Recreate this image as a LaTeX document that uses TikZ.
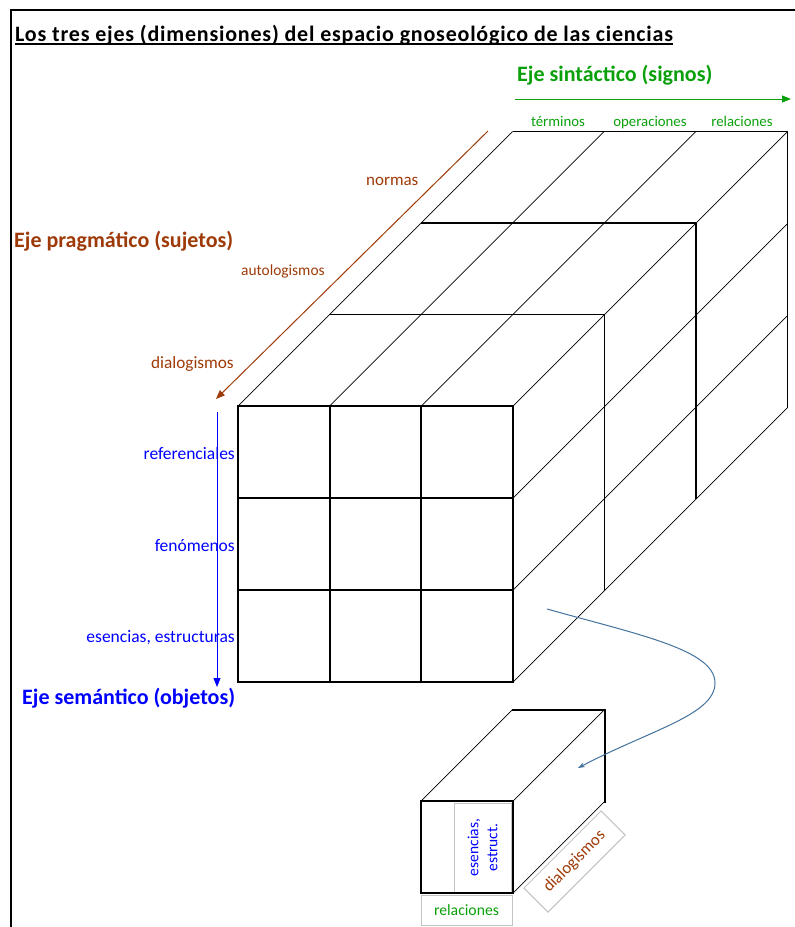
\documentclass[tikz,border=0pt]{standalone}
\usepackage{fontspec}
\setmainfont{Carlito}
\usetikzlibrary{arrows.meta}
\definecolor{sgreen}{RGB}{10,160,10}
\definecolor{pbrown}{RGB}{158,58,8}
\definecolor{sblue}{RGB}{0,0,255}
\definecolor{curveblue}{RGB}{65,113,156}
\definecolor{boxgray}{RGB}{195,195,195}
\begin{document}
\begin{tikzpicture}[x=1pt,y=-1pt,
  heading/.style={inner sep=0pt,font=\fontsize{22}{26}\selectfont\bfseries},
  lbl/.style={inner sep=0pt},
  frontline/.style={line width=2pt,line cap=rect},
  gridline/.style={line width=1.1pt},
  diagline/.style={line width=0.7pt},
  greybox/.style={draw=boxgray,line width=1pt,inner sep=0pt}]
\useasboundingbox (0,0) rectangle (795,927);

% border
\draw[line width=2pt] (10.5,10) -- (795,10);
\draw[line width=1.2pt] (11,9) -- (11,927);

% title
\node[anchor=base west,inner sep=0pt,font=\fontsize{22}{26}\selectfont\bfseries\addfontfeature{LetterSpace=3.6}] (title) at (15,41)
  {Los tres ejes (dimensiones) del espacio gnoseológico de las ciencias};
\draw[line width=1.3pt] ([yshift=-3pt]title.base west) -- ([yshift=-3pt]title.base east);

% ---------- main cube ----------
\foreach \k in {1,2,3}{
  \draw[gridline] (238+\k*91.5,406-\k*91.5) -- (513+\k*91.5,406-\k*91.5);
  \draw[gridline] (513+\k*91.5,406-\k*91.5) -- (513+\k*91.5,682-\k*91.5);
}
\foreach \i in {0,1,2,3}{
  \draw[diagline] (238+\i*91.67,406) -- ++(274.5,-274.5);
}
\foreach \j in {1,2,3}{
  \draw[diagline] (513,406+\j*92) -- ++(274.5,-274.5);
}
\foreach \i in {0,1,2,3}{
  \draw[frontline] (238+\i*91.67,406) -- (238+\i*91.67,682);
  \draw[frontline] (238,406+\i*92) -- (513,406+\i*92);
}

% ---------- axes ----------
\coordinate (gS) at (515,99);
\coordinate (gE) at (791,99);
\draw[sgreen,line width=1pt,-{Triangle[length=9pt,width=7pt]}] (gS) -- (gE);
\coordinate (bS) at (488,131);
\coordinate (bE) at (216,399);
\draw[pbrown,line width=1pt,-{Triangle[length=9pt,width=7pt]}] (bS) -- (bE);
\coordinate (uS) at (217,412);
\coordinate (uE) at (217,687);
\draw[sblue,line width=1pt,-{Triangle[length=9pt,width=7pt]}] (uS) -- (uE);

% axis headings
\node[heading,text=sgreen,anchor=base west] (hsin) at (517,81) {Eje sintáctico (signos)};
\node[heading,text=pbrown,anchor=base west] (hpra) at (14,247) {Eje pragmático (sujetos)};
\node[heading,text=sblue,anchor=base west] (hsem) at (22,704) {Eje semántico (objetos)};

% syntactic labels
\node[lbl,text=sgreen,anchor=base,font=\fontsize{14.8}{17}\selectfont] (lter) at (558,126) {términos};
\node[lbl,text=sgreen,anchor=base,font=\fontsize{14.8}{17}\selectfont] (lope) at (650,126) {operaciones};
\node[lbl,text=sgreen,anchor=base,font=\fontsize{14.8}{17}\selectfont] (lrel) at (742,126) {relaciones};

% pragmatic labels
\node[lbl,text=pbrown,anchor=base west,font=\fontsize{17}{20}\selectfont] (lnor) at (366,185) {normas};
\node[lbl,text=pbrown,anchor=base west,font=\fontsize{15.4}{18}\selectfont] (laut) at (241,275) {autologismos};
\node[lbl,text=pbrown,anchor=base west,font=\fontsize{17.2}{20}\selectfont] (ldia) at (151,368) {dialogismos};

% semantic labels
\node[lbl,text=sblue,anchor=base east,font=\fontsize{17.5}{20}\selectfont] (lref) at (235,459) {referenciales};
\node[lbl,text=sblue,anchor=base east,font=\fontsize{17.5}{20}\selectfont] (lfen) at (235,551) {fenómenos};
\node[lbl,text=sblue,anchor=base east,font=\fontsize{17.5}{20}\selectfont] (lese) at (235,642) {esencias, estructuras};

% ---------- small cube ----------
\draw[diagline] (421,801) -- (512.5,709.5);
\draw[diagline] (513,801) -- (604.5,709.5);
\draw[diagline] (513,893) -- (604.5,801.5);
\draw[frontline] (512.5,709.5) -- (604.5,709.5) -- (604.5,801.5);

\node[greybox,rotate=90,minimum width=89pt,minimum height=57pt,align=center,text=sblue,
  font=\fontsize{15.5}{19}\selectfont] (ebox) at (482.5,847.5) {esencias,\\estruct.};
\draw[frontline] (421,801) rectangle (513,893);
\node[greybox,minimum width=91pt,minimum height=30pt,text=sgreen,
  font=\fontsize{15.7}{18}\selectfont] (rbox) at (466.5,910) {relaciones};
\node[greybox,rotate=45,minimum width=109pt,minimum height=34pt,text=pbrown,
  font=\fontsize{16.7}{19}\selectfont] (dbox) at (574.5,861.5) {dialogismos};

% curved arrow
\coordinate (cS) at (547,609);
\coordinate (cE) at (578,768);
\draw[curveblue,line width=1pt,-{Stealth[length=7pt,width=5pt]}] (cS)
  .. controls (640,635) and (715,650) .. (715,683)
  .. controls (715,715) and (650,730) .. (cE);
\end{tikzpicture}
\end{document}
